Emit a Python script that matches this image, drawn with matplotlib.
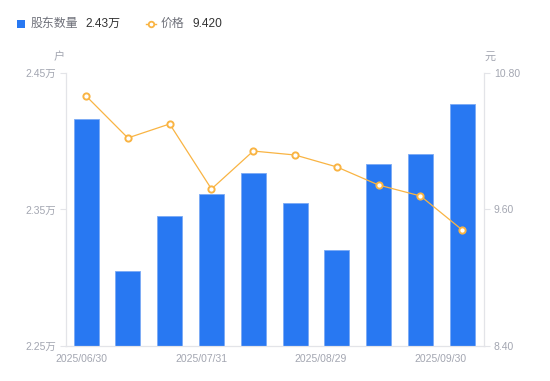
import numpy as np
import matplotlib
matplotlib.use('Agg')
import matplotlib.pyplot as plt
from matplotlib.lines import Line2D
from matplotlib.patches import Rectangle

plt.rcParams['font.family'] = ['Liberation Sans', 'Noto Sans CJK SC', 'DejaVu Sans']

# 股东数量 (万户) 和 价格 (元)
holders = [2.416, 2.305, 2.345, 2.361, 2.377, 2.355, 2.320, 2.383, 2.391, 2.427]
price = [10.598, 10.229, 10.352, 9.780, 10.114, 10.079, 9.974, 9.815, 9.719, 9.420]
date_labels = ['2025/06/30', '2025/07/31', '2025/08/29', '2025/09/30']
left_ticks = [2.25, 2.35, 2.45]
right_ticks = [8.40, 9.60, 10.80]

bar_color = '#2878f2'
line_color = '#f9b443'
axis_color = '#e3e4e8'
label_color = '#a3a6b1'

fig = plt.figure(figsize=(5.5, 3.81), dpi=100)
ax = fig.add_axes([0.12, 0.0919, 0.76, 0.7165])
x = np.arange(len(holders))
ax.bar(x - 0.02, holders, width=0.6, color=bar_color, edgecolor='#7aaaf5', linewidth=0.6, zorder=2)
ax.set_xlim(-0.5, len(holders) - 0.5)
ax.set_ylim(2.25, 2.45)
ax.set_yticks(left_ticks)
ax.set_yticklabels(['{:.2f}万'.format(v) for v in left_ticks])

ax2 = ax.twinx()
ax2.plot(x - 0.02, price, color=line_color, linewidth=0.9, marker='o', markersize=4.5,
         markerfacecolor='white', markeredgecolor=line_color, markeredgewidth=1.4, zorder=3)
ax2.set_ylim(8.40, 10.80)
ax2.set_yticks(right_ticks)
ax2.set_yticklabels(['{:.2f}'.format(v) for v in right_ticks])

ax.set_xticks(np.linspace(-0.12, 8.45, len(date_labels)))
ax.set_xticklabels(date_labels)

for a in (ax, ax2):
    a.spines['top'].set_visible(False)
    for s in ('left', 'right', 'bottom'):
        a.spines[s].set_color(axis_color)
        a.spines[s].set_linewidth(0.8)
    a.tick_params(axis='y', colors=axis_color, labelcolor=label_color, labelsize=7.5, length=4, width=0.8, pad=3)
    a.tick_params(axis='x', length=0, labelcolor=label_color, labelsize=7.5, pad=6)

fig.text(59 / 550, 1 - 57 / 381, '户', color=label_color, fontsize=8, ha='center', va='center')
fig.text(490 / 550, 1 - 57 / 381, '元', color=label_color, fontsize=8, ha='center', va='center')

# 图例 (手动绘制)
ly = 1 - 24 / 381
fig.patches.append(Rectangle((17 / 550, ly - 4 / 381), 8 / 550, 8 / 381, transform=fig.transFigure,
                             facecolor=bar_color, edgecolor='none'))
fig.add_artist(Line2D([146 / 550, 156 / 550], [ly, ly], transform=fig.transFigure, color=line_color, linewidth=1))
fig.add_artist(Line2D([151 / 550], [ly], transform=fig.transFigure, marker='o', markersize=4,
                      markerfacecolor='white', markeredgecolor=line_color, markeredgewidth=1.3))
fig.text(31 / 550, ly, '股东数量', color='#6e7079', fontsize=8.6, va='center')
fig.text(85 / 550, ly, '{:.2f}万'.format(holders[-1]), color='#333333', fontsize=8.6, va='center')
fig.text(161 / 550, ly, '价格', color='#6e7079', fontsize=8.6, va='center')
fig.text(192 / 550, ly, '{:.3f}'.format(price[-1]), color='#333333', fontsize=8.6, va='center')

fig.savefig('out.png', dpi=100)
